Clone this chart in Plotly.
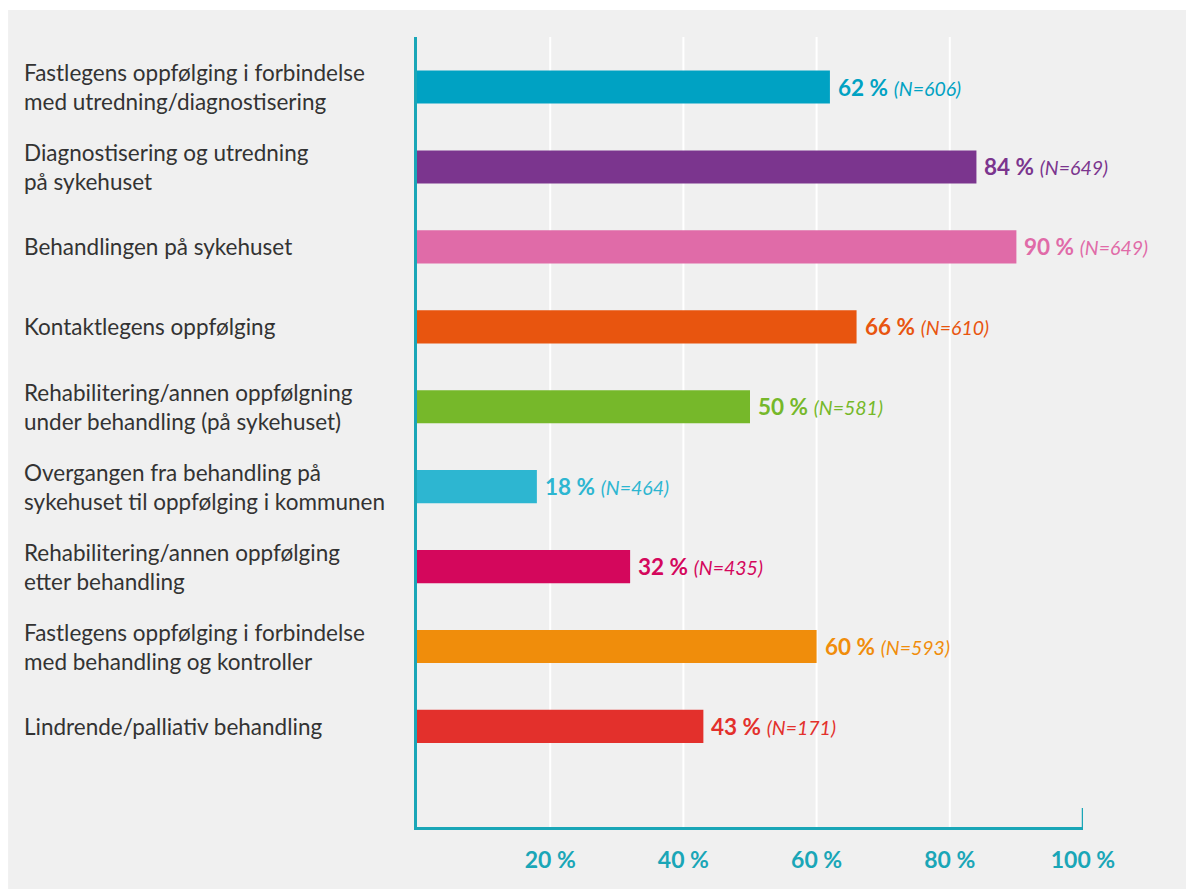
import plotly.graph_objects as go

# Survey: share of patients satisfied with each phase of the care pathway
CATEGORIES = [
    "Fastlegens oppfølging i forbindelse<br>med utredning/diagnostisering",
    "Diagnostisering og utredning<br>på sykehuset",
    "Behandlingen på sykehuset",
    "Kontaktlegens oppfølging",
    "Rehabilitering/annen oppfølgning<br>under behandling (på sykehuset)",
    "Overgangen fra behandling på<br>sykehuset til oppfølging i kommunen",
    "Rehabilitering/annen oppfølging<br>etter behandling",
    "Fastlegens oppfølging i forbindelse<br>med behandling og kontroller",
    "Lindrende/palliativ behandling",
]
PERCENT = [62, 84, 90, 66, 50, 18, 32, 60, 43]
N_RESP = [606, 649, 649, 610, 581, 464, 435, 593, 171]
COLORS = [
    "#00A2C3", "#7B358E", "#E06BA8", "#E8550F", "#76B82A",
    "#2DB6D1", "#D4075C", "#F08D0B", "#E3302C",
]
X_TICKS = [20, 40, 60, 80, 100]
X_TICK_TEXT = ["20 %", "40 %", "60 %", "80 %", "100 %"]
GRID_AT = [20, 40, 60, 80]

TEAL = "#1AA6B7"
TEXT = "#333333"
BG = "#F0F0F0"
FONT = "Lato"

fig = go.Figure(
    go.Bar(
        x=PERCENT,
        y=CATEGORIES,
        orientation="h",
        marker=dict(color=COLORS, line=dict(width=0)),
        width=0.415,
        hoverinfo="skip",
    )
)

annotations = []
for cat, pct, n, col in zip(CATEGORIES, PERCENT, N_RESP, COLORS):
    # category label, left-aligned in the margin
    annotations.append(dict(
        x=-0.5936, xref="paper", y=cat, yref="y",
        text=cat, showarrow=False, xanchor="left", yanchor="middle",
        align="left", font=dict(family=FONT, size=22.5, color=TEXT),
    ))
    # value label just past the end of the bar
    annotations.append(dict(
        x=pct, xref="x", y=cat, yref="y",
        text=f"<b>{pct} %</b> <i><span style='font-size:19.5px'>(N={n})</span></i>",
        showarrow=False, xanchor="left", yanchor="middle", xshift=6,
        font=dict(family=FONT, size=22.5, color=col),
    ))

shapes = [
    # grey panel with a thin white border at top and left
    dict(type="rect", xref="paper", yref="paper",
         x0=-0.614, x1=1.2, y0=-0.1, y1=1.0342,
         fillcolor=BG, line=dict(width=0), layer="below"),
]
for g in GRID_AT:
    shapes.append(dict(type="line", xref="x", yref="paper",
                       x0=g, x1=g, y0=0, y1=1,
                       line=dict(color="white", width=2), layer="below"))
# closing tick at the end of the value axis
shapes.append(dict(type="line", xref="x", yref="paper",
                   x0=100, x1=100, y0=0, y1=0.024,
                   line=dict(color=TEAL, width=2.5)))

fig.update_layout(
    width=1186, height=889,
    margin=dict(l=417, r=103, t=37, b=62),
    paper_bgcolor="white",
    plot_bgcolor=BG,
    showlegend=False,
    bargap=0.5,
    annotations=annotations,
    shapes=shapes,
    xaxis=dict(
        range=[0, 100], tickvals=X_TICKS, ticktext=X_TICK_TEXT,
        showgrid=False, zeroline=False,
        showline=True, linecolor=TEAL, linewidth=2.5,
        ticks="", ticklabelstandoff=11,
        tickfont=dict(family=FONT, size=23, color=TEAL, weight="bold"),
        fixedrange=True,
    ),
    yaxis=dict(
        autorange=False, range=[9.258, -0.626],
        showticklabels=False, showgrid=False, zeroline=False,
        showline=True, linecolor=TEAL, linewidth=2.5, ticks="",
        fixedrange=True,
    ),
)

fig.write_html("out.html")
